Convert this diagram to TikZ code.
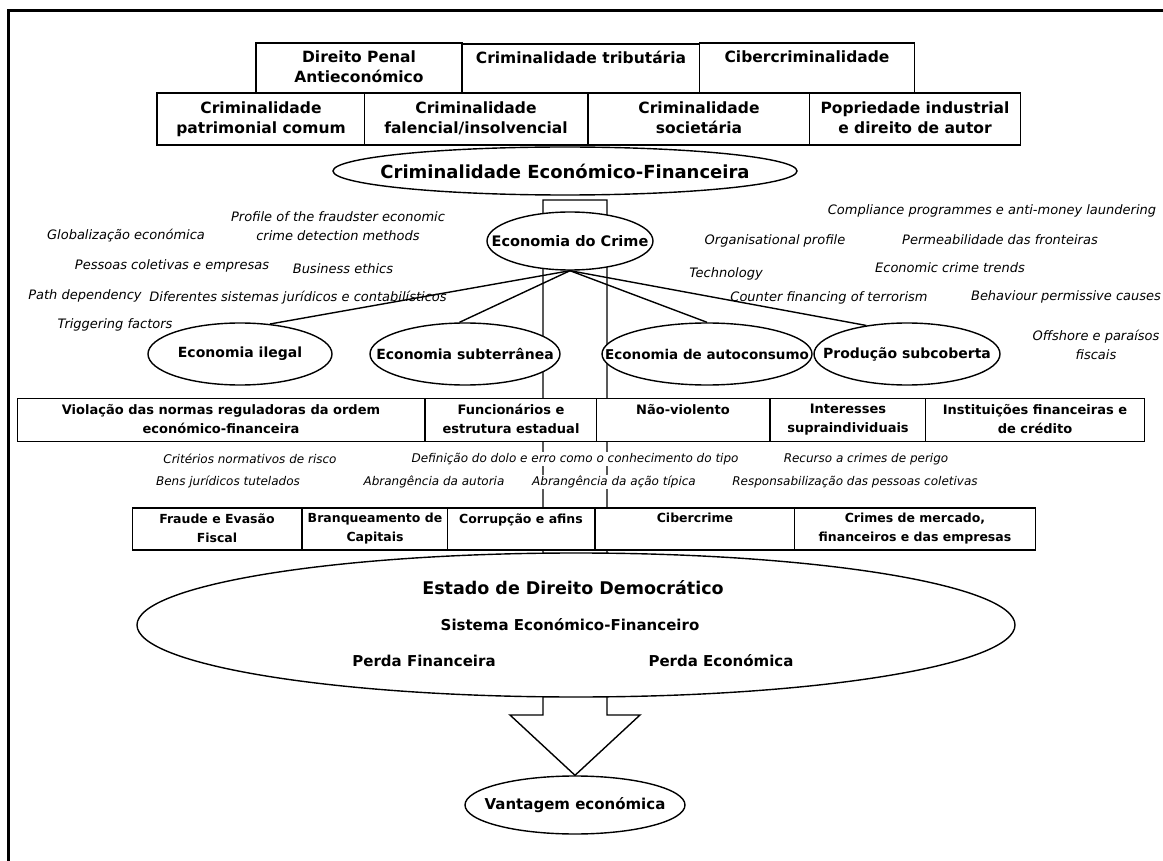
\documentclass[tikz,border=0pt]{standalone}
\usepackage{fontspec}
\setmainfont{DejaVu Sans}
\usetikzlibrary{positioning,shapes.geometric}
\pgfdeclarelayer{bg}
\pgfsetlayers{bg,main}
\newcommand{\ovallabel}[1]{\makebox[0pt][c]{#1}}

\begin{document}
\begin{tikzpicture}[x=1pt,y=-1pt]

\tikzset{line/.style={draw,line width=1.4pt}}
\tikzset{textnode/.style={inner sep=0pt}}
\tikzset{box/.style={line,rectangle,fill=white,inner sep=0pt}}
\tikzset{toprow/.style={box,minimum height=50pt}}
\tikzset{midrow/.style={box,minimum height=43pt}}
\tikzset{boxtext/.style={textnode,align=center,font=\bfseries\fontsize{15.5}{20}\selectfont}}
\tikzset{smalltext/.style={textnode,align=center,font=\bfseries\fontsize{13}{19}\selectfont}}
\tikzset{crimetext/.style={smalltext,font=\bfseries\fontsize{12.5}{19}\selectfont}}
\tikzset{oval/.style={line,ellipse,fill=white,inner sep=0pt}}
\tikzset{ovaltext/.style={font=\bfseries\fontsize{14}{17}\selectfont}}
\tikzset{note/.style={textnode,align=center,font=\itshape\fontsize{13}{19}\selectfont}}
\tikzset{lownote/.style={note,fill=white,inner sep=1pt,font=\itshape\fontsize{12}{18}\selectfont}}

\useasboundingbox (0,0) rectangle (1163,861);
\draw[line width=3pt] (8,11) rectangle (1200,900);

% areas of economic crime
\node[toprow,minimum width=206] (penal) at (359,68) {};
\node[toprow,minimum width=238] (tributaria) at (581,69) {};
\node[toprow,minimum width=215] (ciber) at (807,68) {};
\node[toprow,minimum width=208,minimum height=52] (patrimonial) at (261,119) {};
\node[toprow,minimum width=223,minimum height=52] (falencial) at (476,119) {};
\node[toprow,minimum width=222,minimum height=52] (societaria) at (699,119) {};
\node[toprow,minimum width=211,minimum height=52] (propriedade) at (915,119) {};

\node[boxtext,below=8pt] at (penal.north) {Direito Penal\\Antieconómico};
\node[boxtext,below=8pt] at (tributaria.north) {Criminalidade tributária};
\node[boxtext,below=8pt] at (ciber.north) {Cibercriminalidade};
\node[boxtext,below=9pt] at (patrimonial.north) {Criminalidade\\patrimonial comum};
\node[boxtext,below=9pt] at (falencial.north) {Criminalidade\\falencial/insolvencial};
\node[boxtext,below=9pt] at (societaria.north) {Criminalidade\\societária};
\node[boxtext,below=9pt] at (propriedade.north) {Popriedade industrial\\e direito de autor};

\node[oval,minimum width=464,minimum height=48] (criminalidade) at (565,171)
  {\ovallabel{\fontsize{18}{20}\selectfont\bfseries Criminalidade Económico-Financeira}};
\node[oval,minimum width=166,minimum height=58] (crime) at (570,241)
  {\ovallabel{\fontsize{14.5}{17}\selectfont\bfseries Economia do Crime}};

% factors
\node[note] (profile) at (338,226) {Profile of the fraudster economic\\crime detection methods};
\node[note] (global) at (126,236) {Globalização económica};
\node[note] (pessoas) at (172,266) {Pessoas coletivas e empresas};
\node[note] (ethics) at (343,269) {Business ethics};
\node[note] (path) at (85,296) {Path dependency};
\node[note] (sistemas) at (298,298) {Diferentes sistemas jurídicos e contabilísticos};
\node[note] (trigger) at (115,325) {Triggering factors};
\node[note] (compliance) at (992,211) {Compliance programmes e anti-money laundering};
\node[note] (organisational) at (775,241) {Organisational profile};
\node[note] (fronteiras) at (1000,240) {Permeabilidade das fronteiras};
\node[note] (trends) at (950,268) {Economic crime trends};
\node[note] (technology) at (726,274) {Technology};
\node[note] (terrorism) at (829,298) {Counter financing of terrorism};
\node[note] (behaviour) at (1066,297) {Behaviour permissive causes};
\node[note] (offshore) at (1096,345) {Offshore e paraísos\\fiscais};

% types of economy
\node[oval,minimum width=184,minimum height=62,ovaltext] (ilegal) at (240,354) {\ovallabel{Economia ilegal}};
\node[oval,minimum width=190,minimum height=62,ovaltext] (subterranea) at (465,354) {\ovallabel{Economia subterrânea}};
\node[oval,minimum width=210,minimum height=62,ovaltext] (autoconsumo) at (707,354)
  {\ovallabel{\fontsize{13.5}{17}\selectfont Economia de autoconsumo}};
\node[oval,minimum width=186,minimum height=62,ovaltext] (subcoberta) at (907,354) {\ovallabel{Produção subcoberta}};

\path[line] (crime.south) -- (ilegal.45);
\path[line] (crime.south) -- (subterranea.100);
\path[line] (crime.south) -- (autoconsumo.north);
\path[line] (crime.south) -- (subcoberta.145);

% characteristics
\node[midrow,minimum width=407] (violacao) at (221,420) {};
\node[midrow,minimum width=172] (funcionarios) at (511,420) {};
\node[midrow,minimum width=173] (naoviolento) at (683,420) {};
\node[midrow,minimum width=156] (interesses) at (848,420) {};
\node[midrow,minimum width=219] (instituicoes) at (1035,420) {};

\node[smalltext,below=6pt] at (violacao.north) {Violação das normas reguladoras da ordem\\económico-financeira};
\node[smalltext,below=6pt] at (funcionarios.north) {Funcionários e\\estrutura estadual};
\node[smalltext,below=6pt] at (naoviolento.north) {Não-violento};
\node[smalltext,below=6pt] at (interesses.north) {Interesses\\supraindividuais};
\node[smalltext,below=6pt] at (instituicoes.north) {Instituições financeiras e\\de crédito};

% legal questions
\node[lownote] (riscos) at (250,459) {Critérios normativos de risco};
\node[lownote] (dolo) at (575,459) {Definição do dolo e erro como o conhecimento do tipo};
\node[lownote] (perigo) at (866,459) {Recurso a crimes de perigo};
\node[lownote] (bens) at (228,482) {Bens jurídicos tutelados};
\node[lownote] (autoria) at (434,482) {Abrangência da autoria};
\node[lownote] (acao) at (614,482) {Abrangência da ação típica};
\node[lownote] (coletivas) at (855,482) {Responsabilização das pessoas coletivas};

% crimes
\node[midrow,minimum width=169,minimum height=42] (fraude) at (217,529) {};
\node[midrow,minimum width=146,minimum height=42] (branqueamento) at (375,529) {};
\node[midrow,minimum width=147,minimum height=42] (corrupcao) at (521,529) {};
\node[midrow,minimum width=200,minimum height=42] (cibercrime) at (695,529) {};
\node[midrow,minimum width=241,minimum height=42] (mercado) at (915,529) {};

\node[crimetext,below=6pt] at (fraude.north) {Fraude e Evasão\\Fiscal};
\node[crimetext,below=6pt] at (branqueamento.north) {Branqueamento de\\Capitais};
\node[crimetext,below=6pt] at (corrupcao.north) {Corrupção e afins};
\node[crimetext,below=6pt] at (cibercrime.north) {Cibercrime};
\node[crimetext,below=6pt] at (mercado.north) {Crimes de mercado,\\financeiros e das empresas};

% state
\node[oval,minimum width=878,minimum height=144] (estado) at (576,625) {};
\node[textnode,font=\bfseries\fontsize{17.5}{20}\selectfont] (estadotext) at (573,588) {Estado de Direito Democrático};
\node[textnode,font=\bfseries\fontsize{15}{18}\selectfont] (sistema) at (570,625) {Sistema Económico-Financeiro};
\node[textnode,font=\bfseries\fontsize{15}{18}\selectfont] (financeira) at (424,661) {Perda Financeira};
\node[textnode,font=\bfseries\fontsize{15}{18}\selectfont] (economica) at (721,661) {Perda Económica};

\node[oval,minimum width=220,minimum height=58] (vantagem) at (575,805)
  {\ovallabel{\fontsize{15}{18}\selectfont\bfseries Vantagem económica}};

\begin{pgfonlayer}{bg}
\draw[line] (543,200) -- (607,200) -- (607,715) -- (640,715) -- (vantagem.north)
  -- (510,715) -- (543,715) -- cycle;
\end{pgfonlayer}

\end{tikzpicture}
\end{document}
